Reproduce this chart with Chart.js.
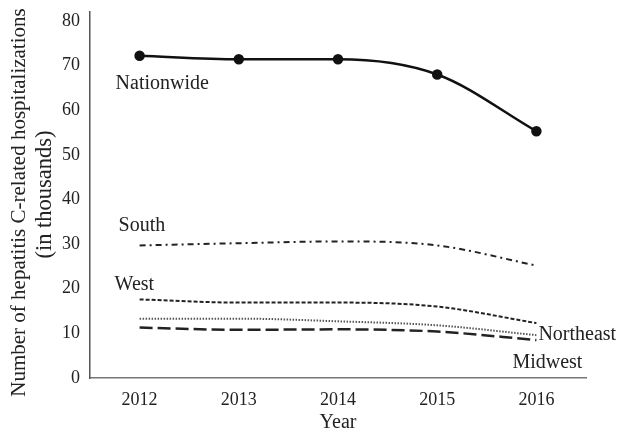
<!DOCTYPE html>
<html>
<head>
<meta charset="utf-8">
<script src="https://cdn.jsdelivr.net/npm/chart.js@4/dist/chart.umd.min.js"></script>
<style>
  html, body { margin: 0; padding: 0; background: #fff; }
  #wrap { width: 643px; height: 430px; position: relative; }
</style>
</head>
<body>
<div id="wrap"><canvas id="c"></canvas></div>
<script>
const years = ['2012', '2013', '2014', '2015', '2016'];
const nationwide = [72.2, 71.4, 71.4, 68.0, 55.3];
const south = [29.7, 30.2, 30.6, 29.7, 25.2];
const west = [17.6, 16.9, 16.9, 16.0, 12.3];
const northeast = [13.3, 13.3, 12.7, 11.8, 9.6];
const midwest = [11.3, 10.8, 10.9, 10.4, 8.5];
const yTicks = [0, 10, 20, 30, 40, 50, 60, 70, 80];
const seriesNames = ['Nationwide', 'South', 'West', 'Northeast', 'Midwest'];
const yTitleLines = ['Number of hepatitis C-related hospitalizations', '(in thousands)'];
const xTitle = 'Year';

const FONT = "'Liberation Serif', 'DejaVu Serif', serif";

// label anchors: [category index, value, align, pixel nudge]
const labelAnchors = [
  [0, 65.9, 'left', -24],
  [0, 34.1, 'left', -21],
  [0, 20.9, 'left', -25],
  [4, 9.7, 'left', 2],
  [4, 3.4, 'left', -24]
];

const labelPlugin = {
  id: 'seriesLabels',
  afterDatasetsDraw(chart) {
    const ctx = chart.ctx;
    const xs = chart.scales.x, ys = chart.scales.y;
    ctx.save();
    ctx.font = "20px " + FONT;
    ctx.fillStyle = '#222';
    ctx.textBaseline = 'middle';
    seriesNames.forEach((name, i) => {
      const a = labelAnchors[i];
      ctx.textAlign = a[2];
      ctx.fillText(name, xs.getPixelForValue(a[0]) + a[3], ys.getPixelForValue(a[1]));
    });
    // rotated y-axis title (two lines)
    const mid = (chart.chartArea.top + chart.chartArea.bottom) / 2;
    const lines = [
      { text: yTitleLines[0], x: 19, dy: 7.5, size: 21 },
      { text: yTitleLines[1], x: 45, dy: -0.5, size: 22.5 }
    ];
    lines.forEach(l => {
      ctx.save();
      ctx.translate(l.x, mid + l.dy);
      ctx.rotate(-Math.PI / 2);
      ctx.font = l.size + "px " + FONT;
      ctx.textAlign = 'center';
      ctx.textBaseline = 'middle';
      ctx.fillText(l.text, 0, 0);
      ctx.restore();
    });
    ctx.restore();
  }
};

const base = { fill: false, pointRadius: 0, cubicInterpolationMode: 'monotone', borderColor: '#111' };

new Chart(document.getElementById('c'), {
  type: 'line',
  data: {
    labels: years,
    datasets: [
      Object.assign({}, base, { label: seriesNames[0], data: nationwide, borderWidth: 2.5, pointRadius: 4, pointBackgroundColor: '#111', pointBorderColor: '#111' }),
      Object.assign({}, base, { label: seriesNames[1], data: south, borderWidth: 2, borderDash: [6, 4, 2, 4], borderColor: '#222' }),
      Object.assign({}, base, { label: seriesNames[2], data: west, borderWidth: 2, borderDash: [4, 2], borderColor: '#222' }),
      Object.assign({}, base, { label: seriesNames[3], data: northeast, borderWidth: 2, borderDash: [1.5, 1.5], borderColor: '#555' }),
      Object.assign({}, base, { label: seriesNames[4], data: midwest, borderWidth: 2.5, borderDash: [13, 5], borderColor: '#222' })
    ]
  },
  options: {
    responsive: true,
    maintainAspectRatio: false,
    animation: false,
    layout: { padding: { left: 0, right: 57, top: 12, bottom: 0 } },
    plugins: { legend: { display: false }, tooltip: { enabled: false } },
    scales: {
      x: {
        type: 'category',
        offset: true,
        grid: { display: false, drawTicks: false },
        border: { display: true, color: '#777', width: 1.5 },
        afterFit: (axis) => { axis.height = 52; axis.paddingLeft = 0; axis.paddingRight = 0; },
        ticks: { color: '#222', font: { family: FONT, size: 18 }, padding: 11 },
        title: { display: true, text: xTitle, color: '#222', font: { family: FONT, size: 20, lineHeight: 0.7 }, padding: { top: 0, bottom: 0 } }
      },
      y: {
        min: 0,
        max: 82,
        grid: { display: false, drawTicks: false },
        border: { display: true, color: '#555', width: 1.5 },
        afterFit: (axis) => { axis.width = 90; axis.paddingTop = 0; axis.paddingBottom = 0; },
        afterBuildTicks: (axis) => { axis.ticks = yTicks.map(v => ({ value: v })); },
        ticks: { color: '#222', font: { family: FONT, size: 18 }, padding: 10 },
        title: { display: false }
      }
    }
  },
  plugins: [labelPlugin]
});
</script>
</body>
</html>
